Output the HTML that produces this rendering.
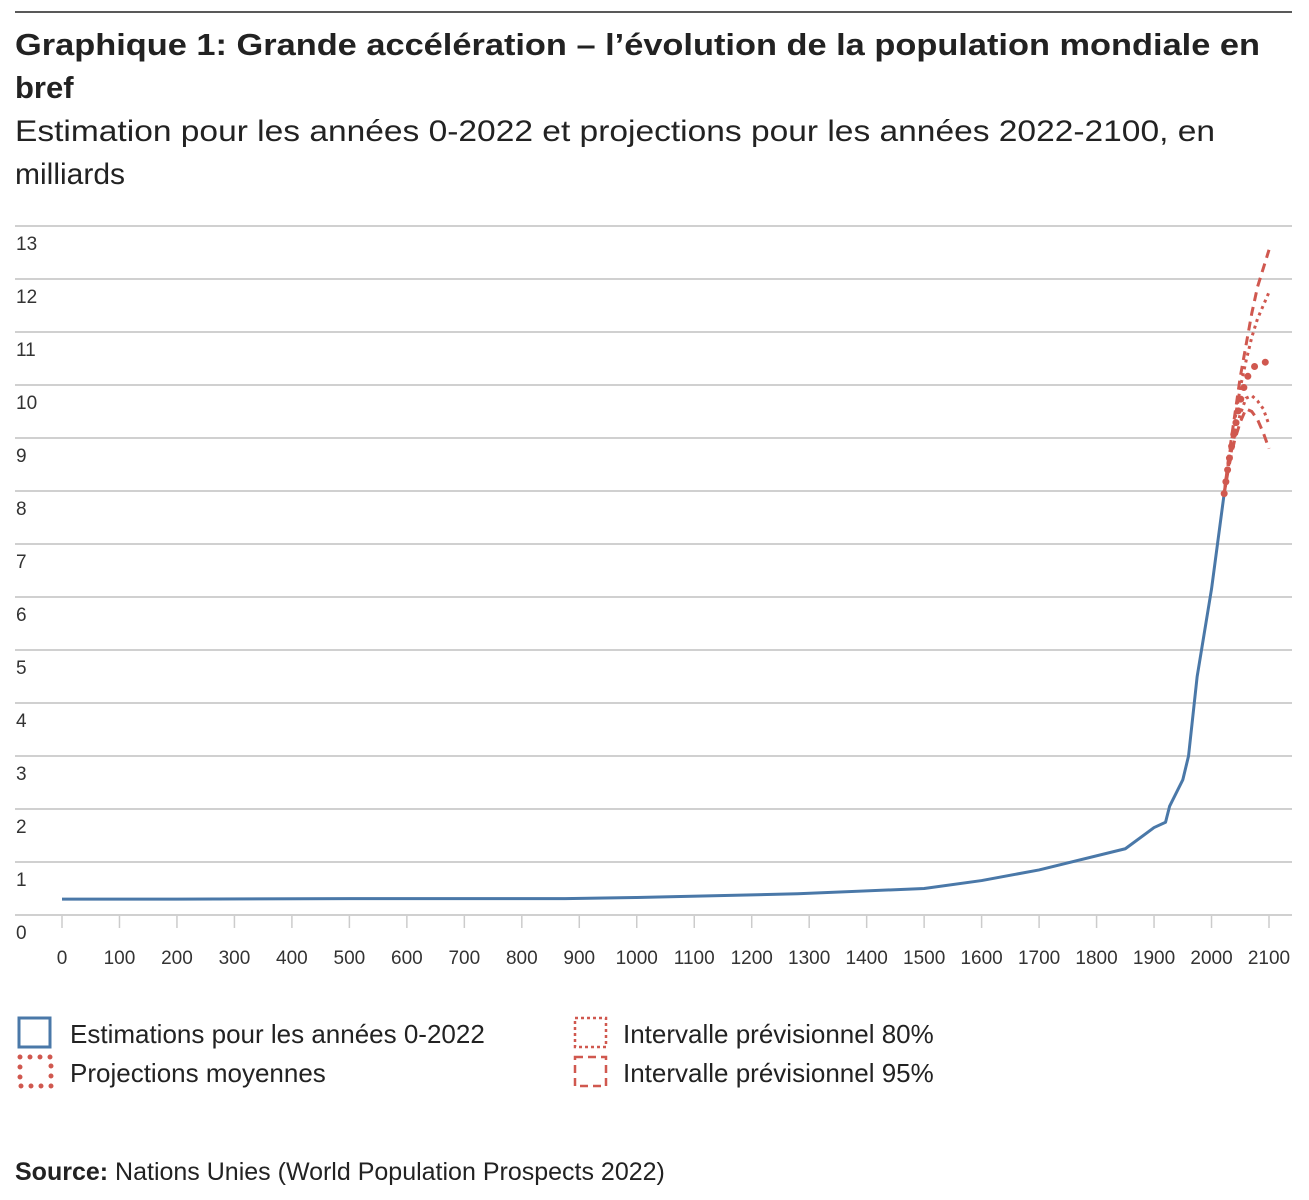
<!DOCTYPE html>
<html><head><meta charset="utf-8"><style>
html,body{margin:0;padding:0;background:#fff}
svg{display:block;font-family:"Liberation Sans",sans-serif}
</style></head><body>
<svg id="chart" width="1309" height="1200" viewBox="0 0 1309 1200">
<line x1="15" y1="12" x2="1292" y2="12" stroke="#222" stroke-width="1.5"/>
<text x="15" y="55" font-size="31" font-weight="bold" fill="#222" textLength="1245" lengthAdjust="spacingAndGlyphs">Graphique 1: Grande accélération – l’évolution de la population mondiale en</text>
<text x="15" y="98" font-size="31" font-weight="bold" fill="#222">bref</text>
<text x="15" y="141" font-size="30" fill="#222" textLength="1200" lengthAdjust="spacingAndGlyphs">Estimation pour les années 0-2022 et projections pour les années 2022-2100, en</text>
<text x="15" y="184" font-size="30" fill="#222">milliards</text>
<g id="grid"></g><g id="xaxis"></g><g id="series"></g>
<g>
<rect x="19" y="1018" width="31" height="29" fill="none" stroke="#4a78a8" stroke-width="3"/>
<text x="70" y="1043" font-size="26" fill="#222">Estimations pour les années 0-2022</text>
<rect x="20" y="1057" width="31" height="29" fill="none" stroke="#d0584f" stroke-width="5" stroke-dasharray="0 10" stroke-linecap="round"/>
<text x="70" y="1082" font-size="26" fill="#222">Projections moyennes</text>
<rect x="575" y="1018" width="31" height="29" fill="none" stroke="#d0584f" stroke-width="2.5" stroke-dasharray="3 3"/>
<text x="623" y="1043" font-size="26" fill="#222">Intervalle prévisionnel 80%</text>
<rect x="575" y="1057" width="31" height="29" fill="none" stroke="#d0584f" stroke-width="2.5" stroke-dasharray="8 5"/>
<text x="623" y="1082" font-size="26" fill="#222">Intervalle prévisionnel 95%</text>
</g>
<text x="15" y="1180" font-size="25" fill="#222"><tspan font-weight="bold">Source:</tspan> Nations Unies (World Population Prospects 2022)</text>
</svg>
<script>
const histYears=[0,200,500,875,1000,1280,1500,1600,1700,1850,1900,1920,1927,1950,1960,1975,2000,2022];
const histValues=[0.3,0.3,0.31,0.31,0.33,0.4,0.5,0.65,0.85,1.25,1.65,1.75,2.05,2.55,3.0,4.5,6.15,7.95];
const projYears=[2022,2030,2040,2050,2060,2070,2080,2090,2100];
const projMean=[7.95,8.55,9.15,9.7,10.1,10.3,10.4,10.43,10.43];
const lo80=[7.95,8.5,9.05,9.45,9.75,9.8,9.7,9.55,9.25];
const hi80=[7.95,8.6,9.3,9.95,10.45,10.9,11.25,11.5,11.75];
const lo95=[7.95,8.45,8.95,9.3,9.55,9.5,9.35,9.1,8.8];
const hi95=[7.95,8.65,9.4,10.15,10.75,11.35,11.85,12.2,12.55];
const yTicks=[0,1,2,3,4,5,6,7,8,9,10,11,12,13];
const xTicks=[0,100,200,300,400,500,600,700,800,900,1000,1100,1200,1300,1400,1500,1600,1700,1800,1900,2000,2100];
const NS="http://www.w3.org/2000/svg";
const X=v=>62+v*(1269-62)/2100;
const Y=v=>915-v*53;
function mk(tag,attrs,parent){const e=document.createElementNS(NS,tag);for(const k in attrs)e.setAttribute(k,attrs[k]);parent.appendChild(e);return e;}
const grid=document.getElementById('grid');
yTicks.forEach(t=>{
  const l=mk('line',{x1:15,x2:1292,y1:Y(t),y2:Y(t),stroke:'#d0d0d0','stroke-width':2},grid);
  
  
  const tx=mk('text',{x:16,y:Y(t)+24,'font-size':19,fill:'#333'},grid);
  tx.textContent=t;
  
  
});
const xa=document.getElementById('xaxis');
xTicks.forEach(t=>{
  const l=mk('line',{x1:X(t),x2:X(t),y1:916,y2:928,stroke:'#ccc','stroke-width':1.5},xa);
  
  
  const tx=mk('text',{x:X(t),y:964,'font-size':19,fill:'#333','text-anchor':'middle'},xa);
  tx.textContent=t;
  
  
});
const s=document.getElementById('series');
function pts(xs,ys){return xs.map((x,i)=>X(x)+','+Y(ys[i])).join(' ');}
const p1=mk('polyline',{points:pts(histYears,histValues),fill:'none',stroke:'#4a78a8','stroke-width':3,'stroke-linejoin':'round'},s);


const p2=mk('polyline',{points:pts(projYears,hi95),fill:'none',stroke:'#d0584f','stroke-width':3,'stroke-dasharray':'9 6'},s);


const p3=mk('polyline',{points:pts(projYears,lo95),fill:'none',stroke:'#d0584f','stroke-width':3,'stroke-dasharray':'9 6'},s);


const p4=mk('polyline',{points:pts(projYears,hi80),fill:'none',stroke:'#d0584f','stroke-width':3,'stroke-dasharray':'3 4'},s);


const p5=mk('polyline',{points:pts(projYears,lo80),fill:'none',stroke:'#d0584f','stroke-width':3,'stroke-dasharray':'3 4'},s);


const p6=mk('polyline',{points:pts(projYears,projMean),fill:'none',stroke:'#d0584f','stroke-width':7,'stroke-dasharray':'0 12','stroke-linecap':'round'},s);


</script>
</body></html>
